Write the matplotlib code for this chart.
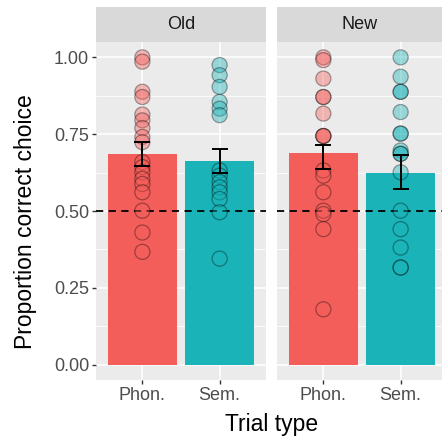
import matplotlib
matplotlib.use("Agg")
import matplotlib.pyplot as plt
from matplotlib.colors import to_rgba

plt.rcParams['font.family'] = ['Liberation Sans', 'DejaVu Sans']

panels = ["Old", "New"]
trial_types = ["Phon.", "Sem."]
colors = ["#F35E5A", "#19B3B8"]

# bar means and error bar limits per panel (Phon., Sem.)
means = {"Old": [0.686, 0.664], "New": [0.688, 0.623]}
err_lo = {"Old": [0.648, 0.625], "New": [0.637, 0.570]}
err_hi = {"Old": [0.724, 0.703], "New": [0.716, 0.681]}

# individual participant proportions
old_phon = [1.0, 0.986, 0.888, 0.871, 0.814, 0.795, 0.770, 0.741, 0.724,
            0.659, 0.643, 0.626, 0.605, 0.588, 0.561, 0.501, 0.430, 0.367]
old_sem = [0.975, 0.942, 0.904, 0.855, 0.833, 0.812, 0.632, 0.615, 0.594,
           0.577, 0.561, 0.539, 0.496, 0.345]
new_phon = [1.0, 0.991, 0.931, 0.871, 0.871, 0.817, 0.744, 0.744, 0.744,
            0.632, 0.615, 0.561, 0.501, 0.490, 0.441, 0.180]
new_sem = [1.0, 0.937, 0.888, 0.888, 0.822, 0.752, 0.752, 0.697, 0.686,
           0.686, 0.626, 0.501, 0.441, 0.381, 0.316, 0.316]
points = {"Old": [old_phon, old_sem], "New": [new_phon, new_sem]}

W, H = 442, 438
fig = plt.figure(figsize=(W / 100, H / 100), dpi=100)

def frac(x0, y0, x1, y1):
    return [x0 / W, (H - y1) / H, (x1 - x0) / W, (y1 - y0) / H]

lefts = [96, 277]
for i, p in enumerate(panels):
    x0 = lefts[i]
    ax = fig.add_axes(frac(x0, 42, x0 + 170, 380))
    ax.set_facecolor("#EBEBEB")
    ax.set_xlim(0.4, 2.6)
    ax.set_ylim(-0.05, 1.05)
    for s in ax.spines.values():
        s.set_visible(False)
    ax.set_yticks([0, 0.25, 0.5, 0.75, 1.0])
    ax.set_yticks([0.125, 0.375, 0.625, 0.875], minor=True)
    ax.set_xticks([1, 2])
    ax.grid(which="major", color="white", lw=1.1)
    ax.grid(which="minor", axis="y", color="white", lw=0.55)
    ax.set_axisbelow(True)
    ax.tick_params(which="minor", length=0)
    ax.tick_params(which="major", length=3, width=1, color="#333333",
                   labelcolor="#4D4D4D", labelsize=13, pad=2)
    ax.set_xticklabels(trial_types)
    if i == 0:
        ax.set_yticklabels(["0.00", "0.25", "0.50", "0.75", "1.00"])
    else:
        ax.tick_params(axis="y", which="both", left=False, labelleft=False)

    xs = [1, 2]
    ax.bar(xs, means[p], width=0.9, color=colors, zorder=2)
    ax.axhline(0.5, color="black", ls=(0, (4, 3)), lw=1.3, zorder=3)
    for j in range(2):
        vals = points[p][j]
        ax.scatter([xs[j]] * len(vals), vals, s=118,
                   facecolors=[to_rgba(colors[j], 0.4)] * len(vals),
                   edgecolors=[(0, 0, 0, 0.35)] * len(vals),
                   linewidths=0.9, zorder=4)
    yerr = [[m - lo for m, lo in zip(means[p], err_lo[p])],
            [hi - m for m, hi in zip(means[p], err_hi[p])]]
    ax.errorbar(xs, means[p], yerr=yerr, fmt="none", ecolor="black",
                elinewidth=1.4, capsize=5.5, capthick=1.4, zorder=5)

    sax = fig.add_axes(frac(x0, 7, x0 + 170, 42))
    sax.set_facecolor("#D9D9D9")
    sax.set_xticks([])
    sax.set_yticks([])
    for s in sax.spines.values():
        s.set_visible(False)
    sax.text(0.5 if i == 0 else 165 / 340, 0.5, p, transform=sax.transAxes,
             ha="center", va="center", fontsize=13, color="#1A1A1A")

fig.text(26 / W, 1 - 222 / H, "Proportion correct choice", rotation=90,
         ha="center", va="center", fontsize=16.5)
fig.text(272 / W, 1 - 425 / H, "Trial type", ha="center", va="center",
         fontsize=16.5)

fig.savefig("out.png", dpi=100)
